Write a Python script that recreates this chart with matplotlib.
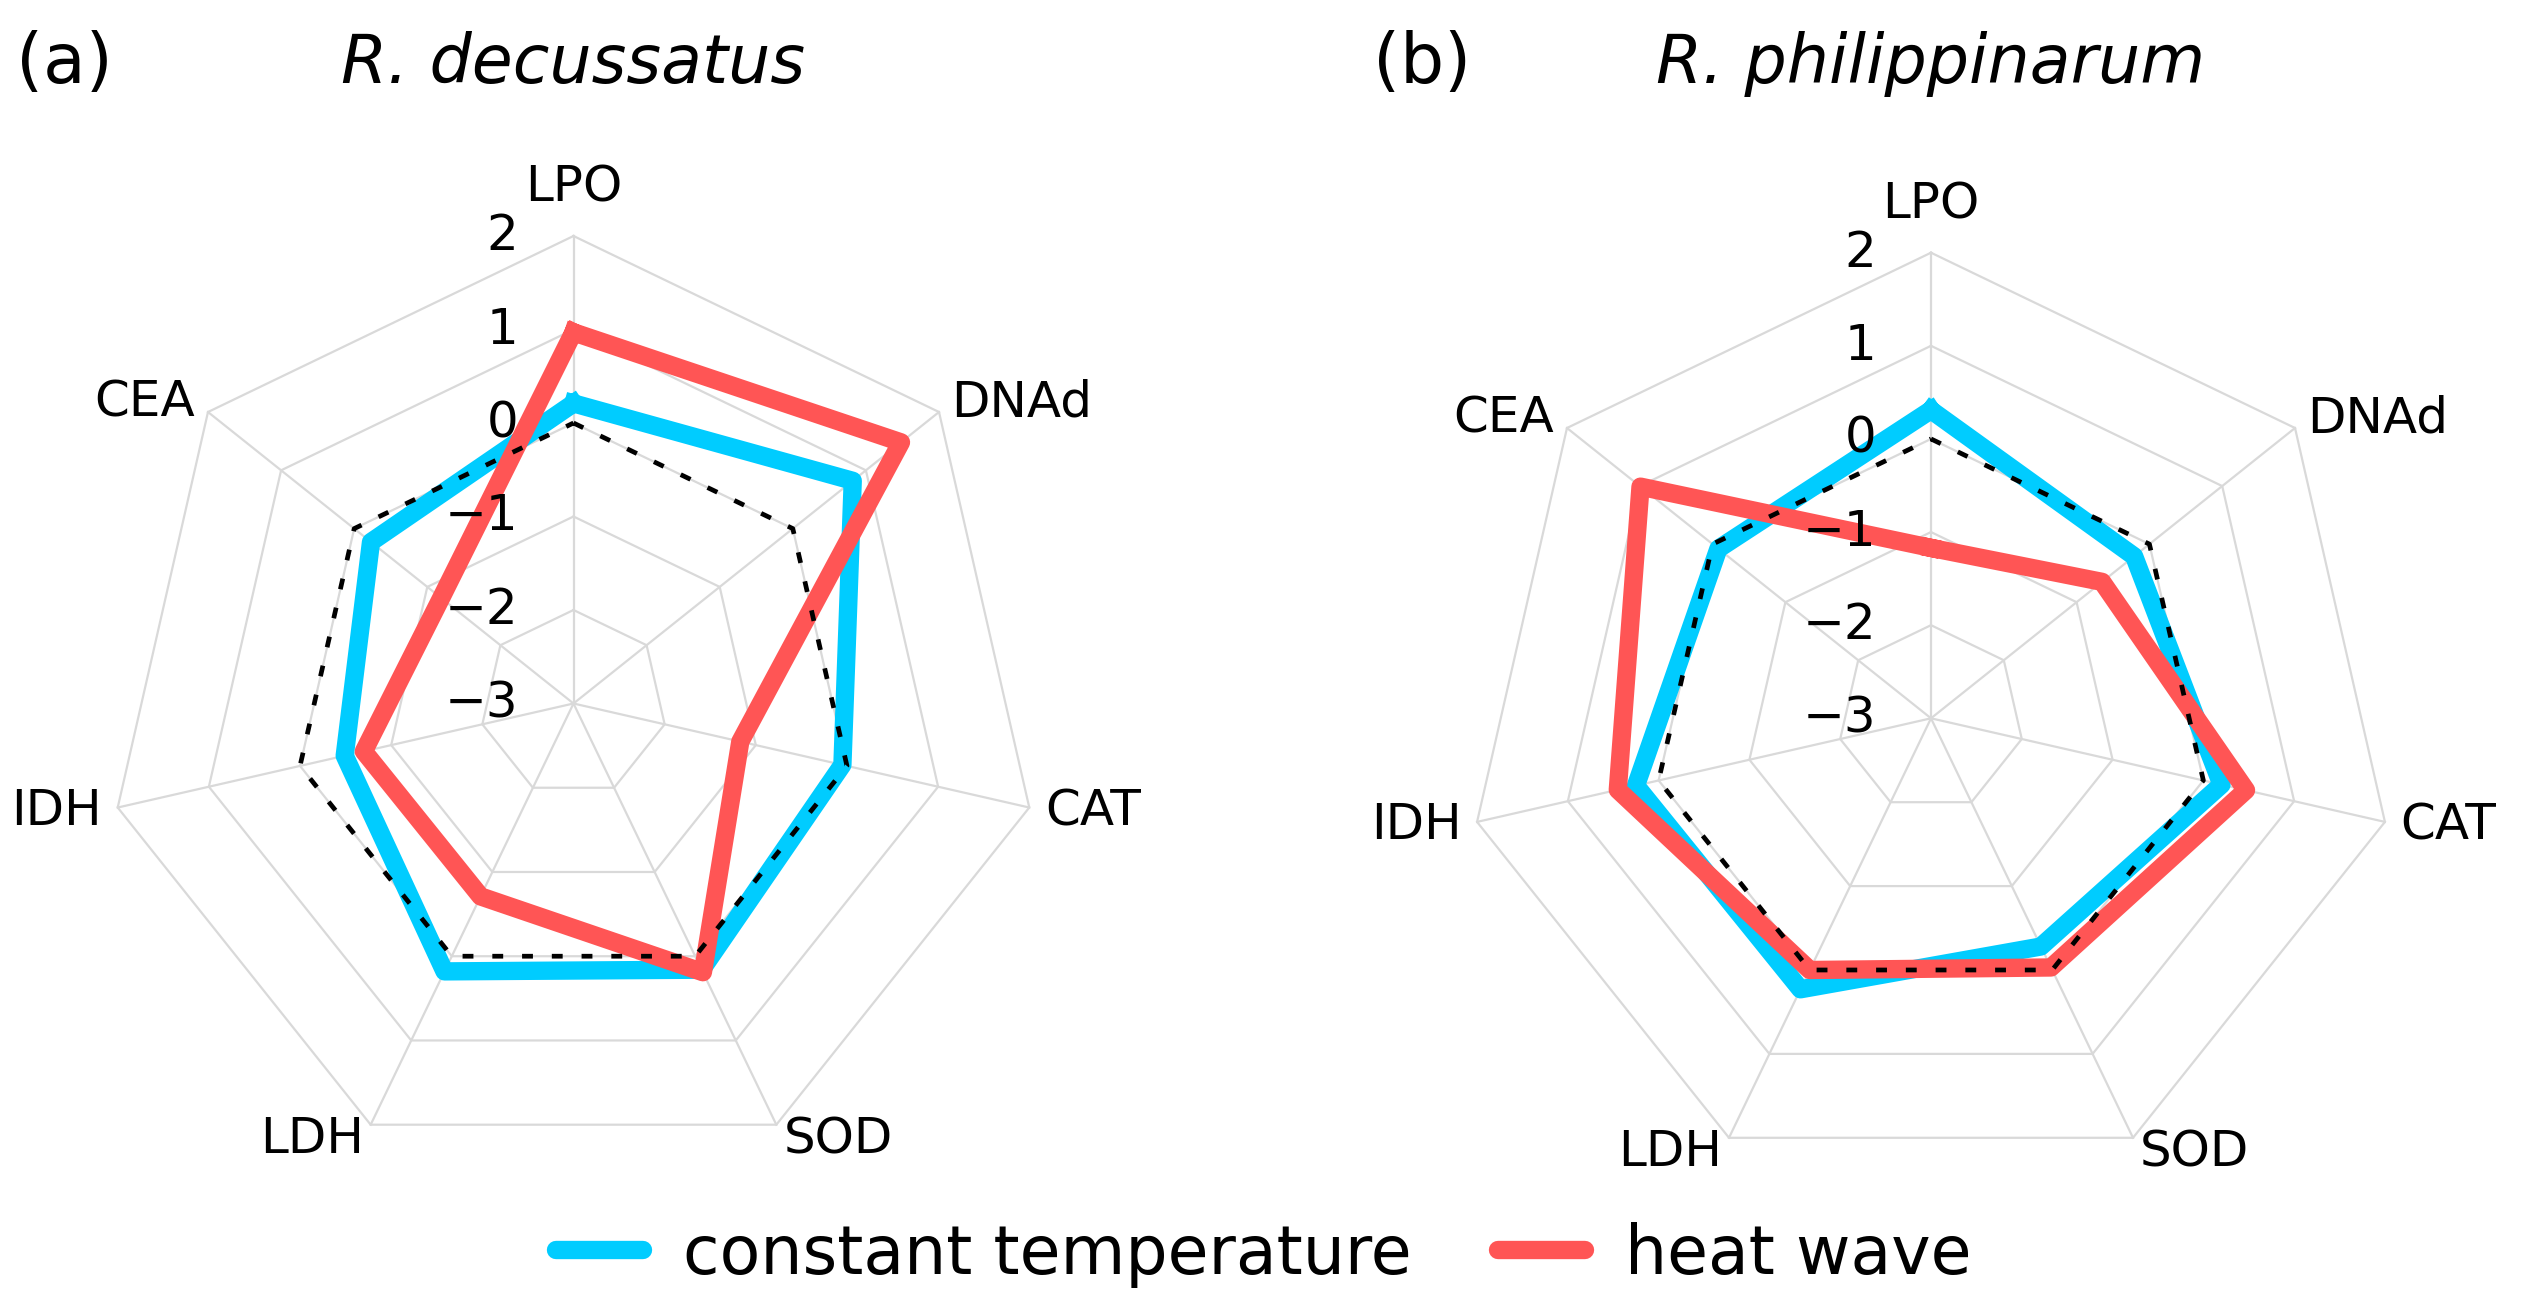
import numpy as np
import matplotlib
matplotlib.use("Agg")
import matplotlib.pyplot as plt
from matplotlib.lines import Line2D
from matplotlib.transforms import offset_copy

# axes of the radar, clockwise from the top
CATEGORIES = ["LPO", "DNAd", "CAT", "SOD", "LDH", "IDH", "CEA"]
R_TICKS = [2, 1, 0, -1, -2, -3]

# R. decussatus
DEC_CONSTANT = [0.21, 0.82, -0.05, 0.16, 0.18, -0.49, -0.23]
DEC_HEATWAVE = [0.97, 1.48, -1.17, 0.19, -0.71, -0.70, -1.19]
# R. philippinarum
PHI_CONSTANT = [0.31, -0.21, 0.20, -0.28, 0.23, 0.25, -0.08]
PHI_HEATWAVE = [-1.17, -0.65, 0.47, -0.03, 0.00, 0.45, 0.99]
# dashed reference (control = 0)
CONTROL = [0, 0, 0, 0, 0, 0, 0]

BLUE = "#00CCFF"
RED = "#FF5555"
GRID = "#D9D9D9"
LW = 13.2
W, H = 2527, 1315


def closed(v):
    return list(v) + [v[0]]


def draw_radar(fig, ax, constant, heatwave):
    ang = np.linspace(0, 2 * np.pi, len(CATEGORIES), endpoint=False)
    ang_c = closed(ang)
    ax.set_theta_zero_location("N")
    ax.set_theta_direction(-1)
    ax.set_ylim(-3, 2)
    ax.set_xticks([])
    ax.set_yticks([])
    ax.grid(False)
    ax.spines["polar"].set_visible(False)

    # polygon grid
    for rv in R_TICKS[:-1]:
        ax.plot(ang_c, [rv] * len(ang_c), color=GRID, lw=1.6, clip_on=False, zorder=1)
    for a in ang:
        ax.plot([a, a], [-3, 2], color=GRID, lw=1.6, clip_on=False, zorder=1)

    ax.plot(ang_c, closed(constant), color=BLUE, lw=LW, solid_joinstyle="round",
            clip_on=False, zorder=3)
    ax.plot(ang_c, closed(heatwave), color=RED, lw=LW, solid_joinstyle="round",
            clip_on=False, zorder=4)
    ax.plot(ang_c, closed(CONTROL), color="black", lw=3.4, ls=(0, (2.3, 4.0)),
            clip_on=False, zorder=5)

    # radial tick labels, left of the LPO axis
    tr = offset_copy(ax.transData, fig=fig, x=-55, y=0, units="dots")
    for v in R_TICKS:
        ax.text(0, v, str(v).replace("-", "\u2212"), transform=tr, ha="right",
                va="center", fontsize=36, zorder=6)

    # category labels
    for a, name in zip(ang, CATEGORIES):
        s, c = np.sin(a), np.cos(a)
        if abs(s) < 0.1:
            ha = "center"
        elif s > 0:
            ha = "left"
        else:
            ha = "right"
        if c > 0.9:
            tr = offset_copy(ax.transData, fig=fig, x=0, y=34, units="dots")
            va = "baseline"
        else:
            tr = offset_copy(ax.transData, fig=fig, x=16 * s, y=16 * c, units="dots")
            va = "center"
        ax.text(a, 2, name, transform=tr, ha=ha, va=va, fontsize=36)


fig = plt.figure(figsize=(W / 100, H / 100), dpi=100)

# panel (a): centre (573.5, 703.5) px, radius 467.5 px
ax1 = fig.add_axes([106 / W, 144 / H, 935 / W, 935 / H], projection="polar")
draw_radar(fig, ax1, DEC_CONSTANT, DEC_HEATWAVE)
# panel (b): centre (1931, 718.3) px, radius 465.6 px
ax2 = fig.add_axes([1465.4 / W, 131.1 / H, 931.2 / W, 931.2 / H], projection="polar")
draw_radar(fig, ax2, PHI_CONSTANT, PHI_HEATWAVE)

fig.text(16 / W, 1 - 64 / H, "(a)", ha="left", va="center", fontsize=50)
fig.text(573.5 / W, 1 - 64 / H, "R. decussatus", ha="center", va="center",
         fontsize=48, style="italic")
fig.text(1373 / W, 1 - 64 / H, "(b)", ha="left", va="center", fontsize=50)
fig.text(1931 / W, 1 - 64 / H, "R. philippinarum", ha="center", va="center",
         fontsize=48, style="italic")

handles = [
    Line2D([], [], color=BLUE, lw=LW, solid_capstyle="round"),
    Line2D([], [], color=RED, lw=LW, solid_capstyle="round"),
]
fig.legend(handles, ["constant temperature", "heat wave"], loc="center",
           bbox_to_anchor=(0.5, 0.046), ncol=2, frameon=False, fontsize=48,
           handlelength=1.3, handletextpad=0.6, columnspacing=1.3)

fig.savefig("out.png", dpi=100)
